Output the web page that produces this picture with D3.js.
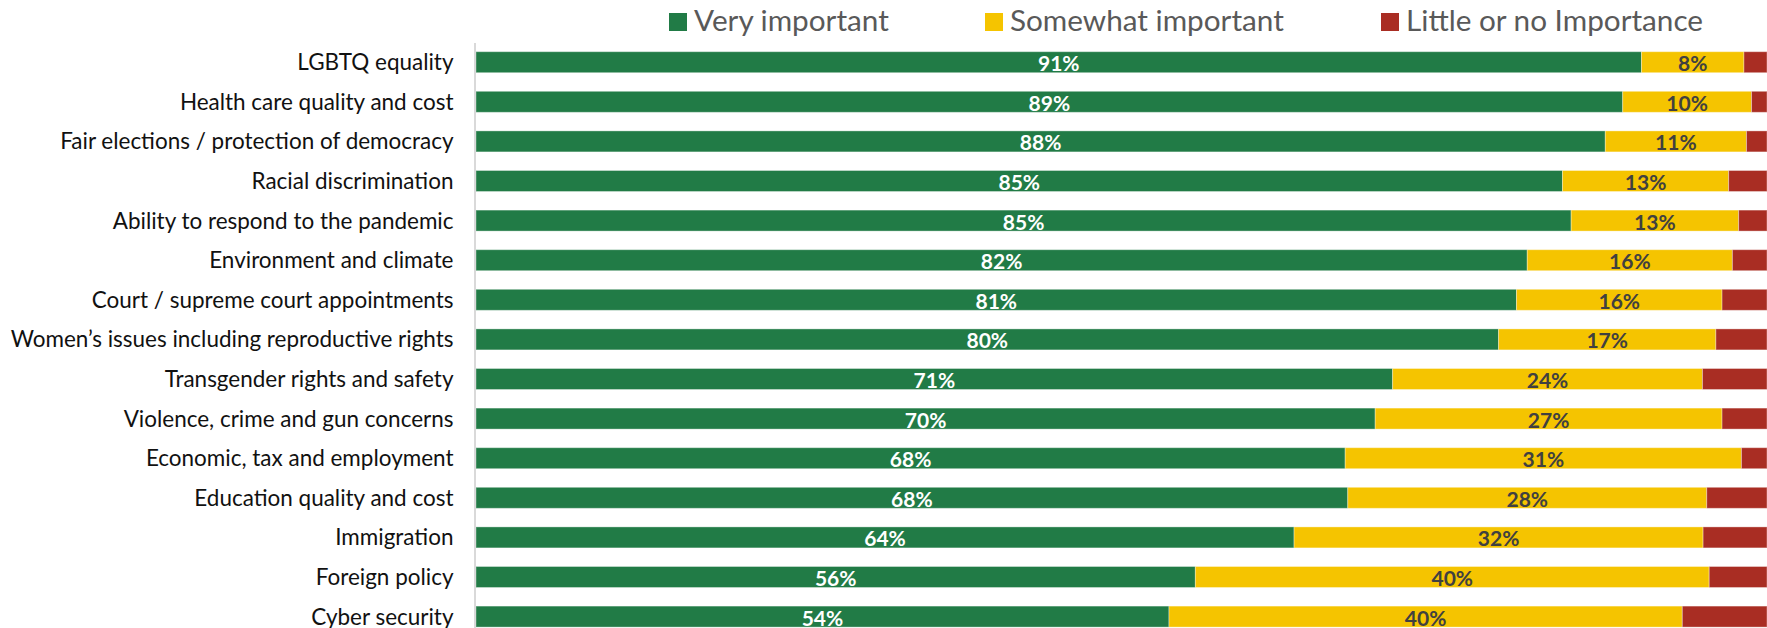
<!DOCTYPE html>
<html>
<head>
<meta charset="utf-8">
<script src="https://cdn.jsdelivr.net/npm/d3@7"></script>
<style>
  html, body { margin: 0; padding: 0; background: #ffffff; }
  svg { display: block; }
</style>
</head>
<body>
<svg id="chart" width="1767" height="628"></svg>
<script>
const categories = [
  "LGBTQ equality",
  "Health care quality and cost",
  "Fair elections / protection of democracy",
  "Racial discrimination",
  "Ability to respond to the pandemic",
  "Environment and climate",
  "Court / supreme court appointments",
  "Women’s issues including reproductive rights",
  "Transgender rights and safety",
  "Violence, crime and gun concerns",
  "Economic, tax and employment",
  "Education quality and cost",
  "Immigration",
  "Foreign policy",
  "Cyber security"
];
const seriesNames = ["Very important", "Somewhat important", "Little or no Importance"];
const veryImportant     = [91, 89, 88, 85, 85, 82, 81, 80, 71, 70, 68, 68, 64, 56, 54];
const somewhatImportant = [ 8, 10, 11, 13, 13, 16, 16, 17, 24, 27, 31, 28, 32, 40, 40];
const littleImportance  = [1.8, 1.2, 1.6, 3, 2.2, 2.7, 3.5, 4, 5, 3.5, 2, 4.7, 5, 4.5, 6.6];
const seriesColors = ["#217B46", "#F5C400", "#A92D23"];
const labelColors  = ["#FFFFFF", "#404040", null];

const W = 1767, H = 628;
const plotLeft = 476, plotRight = 1767;
const svg = d3.select("#chart");

const rows = categories.map((c, i) => ({
  category: c,
  [seriesNames[0]]: veryImportant[i],
  [seriesNames[1]]: somewhatImportant[i],
  [seriesNames[2]]: littleImportance[i]
}));

const stack = d3.stack().keys(seriesNames).offset(d3.stackOffsetExpand);
const stacked = stack(rows);

const x = d3.scaleLinear().domain([0, 1]).range([plotLeft, plotRight]);
const y = d3.scaleBand().domain(categories).range([42.4, 636.4])
  .paddingInner(0.47).paddingOuter(0.235);

// Bars
const layers = svg.append("g").selectAll("g").data(stacked).join("g")
  .attr("fill", (d, i) => seriesColors[i]);
layers.selectAll("rect").data(d => d).join("rect")
  .attr("x", d => x(d[0]))
  .attr("y", d => y(d.data.category))
  .attr("width", d => x(d[1]) - x(d[0]))
  .attr("height", y.bandwidth())
  .attr("stroke", "rgba(255,255,255,0.35)")
  .attr("stroke-width", 1);

// Axis (category labels)
const axis = svg.append("g")
  .attr("transform", `translate(${plotLeft - 1.5},0)`)
  .call(d3.axisLeft(y).tickSize(0).tickSizeOuter(0).tickPadding(21));
axis.select(".domain").attr("stroke", "#D9D9D9").attr("stroke-width", 2);
const tickText = axis.selectAll("text")
  .attr("font-family", "Lato, 'Open Sans', sans-serif")
  .attr("fill", "#111111")
  .attr("font-size", 20);
let maxW = 0;
tickText.each(function() { maxW = Math.max(maxW, this.getComputedTextLength()); });
const catSize = 20 * 443 / maxW;
tickText.attr("font-size", catSize).attr("dy", null)
  .attr("y", 8);

// Data labels
const labelFont = "Lato, 'Open Sans', sans-serif";
stacked.forEach((layer, si) => {
  if (!labelColors[si]) return;
  svg.append("g").selectAll("text").data(layer).join("text")
    .attr("x", d => (x(d[0]) + x(d[1])) / 2)
    .attr("y", d => y(d.data.category) + 19.5)
    .attr("text-anchor", "middle")
    .attr("font-family", labelFont)
    .attr("font-weight", "bold")
    .attr("font-size", 21)
    .attr("fill", labelColors[si])
    .text(d => d.data[layer.key] + "%");
});

// Legend
const legendX = [669, 985, 1381];
const legend = svg.append("g");
const items = legend.selectAll("g").data(seriesNames).join("g")
  .attr("transform", (d, i) => `translate(${legendX[i]},0)`);
items.append("rect").attr("x", 0).attr("y", 13).attr("width", 18).attr("height", 18)
  .attr("fill", (d, i) => seriesColors[i]);
const legText = items.append("text").attr("x", 25).attr("y", 31)
  .attr("font-family", "Lato, 'Open Sans', sans-serif")
  .attr("font-size", 28)
  .attr("fill", "#595959")
  .text(d => d);
let legW = 0;
legText.each(function() { legW += this.getComputedTextLength(); });
legText.attr("font-size", 28 * (195 + 275 + 296) / legW);
</script>
</body>
</html>
